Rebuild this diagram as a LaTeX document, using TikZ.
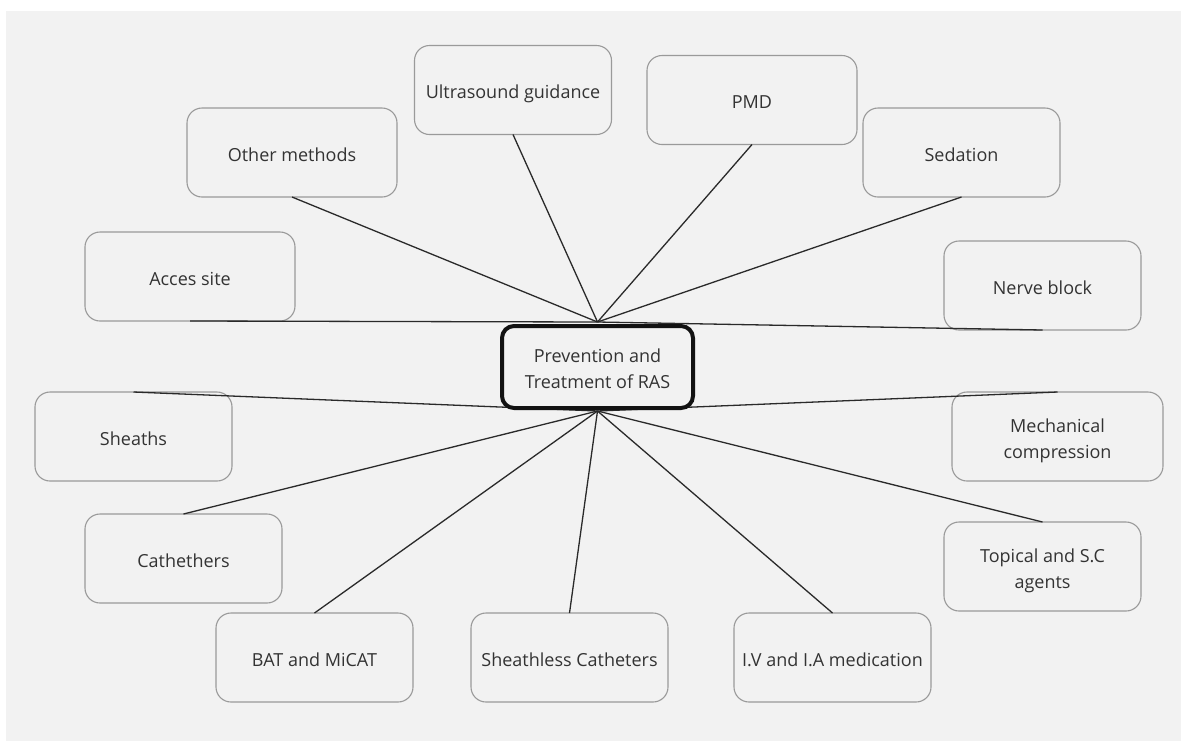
\documentclass[tikz,border=0pt]{standalone}
\usepackage{fontspec}
\setmainfont{Open Sans}
\definecolor{bgc}{HTML}{F2F2F2}
\definecolor{txt}{HTML}{333333}
\definecolor{boxc}{HTML}{9A9A9A}
\definecolor{linec}{HTML}{2A2A2A}
\pgfdeclarelayer{bg}
\pgfdeclarelayer{lines}
\pgfdeclarelayer{top}
\pgfsetlayers{bg,main,lines,top}
\tikzset{
  leaf/.style={draw=boxc, line width=1.1pt, rounded corners=15pt, fill=bgc,
    minimum width=197pt, minimum height=89pt, inner sep=0pt, outer sep=0pt,
    text=txt, align=center, font=\fontsize{18}{26}\selectfont,
    text height=22pt, text depth=5pt},
  two/.style={text height=48pt, text depth=5pt},
  hubbox/.style={draw=black!93, line width=4pt, rounded corners=12pt, fill=bgc,
    minimum width=191pt, minimum height=82pt, inner sep=0pt, outer sep=0pt,
    text=txt, align=center, font=\fontsize{18}{26}\selectfont,
    text height=48pt, text depth=5pt},
  conn/.style={draw=linec, line width=1.3pt}
}
\begin{document}
\begin{tikzpicture}[x=1pt,y=-1pt]
\useasboundingbox (0,0) rectangle (1181,740);
\begin{pgfonlayer}{bg}
  \fill[white] (0,0) rectangle (1181,740);
  \fill[bgc] (6,11) rectangle (1195,755);
\end{pgfonlayer}
\begin{pgfonlayer}{top}
\node[hubbox] (c) at (597.5,367) {Prevention and\\Treatment of RAS};
\end{pgfonlayer}
\coordinate (ht) at (597.5,322);
\coordinate (hb) at (597.5,411);
\node[leaf] (us) at (513,90) {Ultrasound guidance};
\node[leaf, minimum width=210pt] (pmd) at (752,100) {PMD};
\node[leaf, minimum width=210pt] (om) at (292,152.5) {Other methods};
\node[leaf] (sed) at (961.5,152.5) {Sedation};
\node[leaf, minimum width=210pt] (acc) at (190,276.5) {Acces site};
\node[leaf] (nb) at (1042.5,285.5) {Nerve block};
\node[leaf] (sh) at (133.5,436.5) {Sheaths};
\node[leaf, two, minimum width=211pt] (mc) at (1057.5,436.5) {Mechanical\\compression};
\node[leaf, two] (ts) at (1042.5,566.5) {Topical and S.C\\agents};
\node[leaf] (ca) at (183.5,558.5) {Cathethers};
\node[leaf] (bat) at (314.5,657.5) {BAT and MiCAT};
\node[leaf] (sl) at (569.5,657.5) {Sheathless Catheters};
\node[leaf] (iv) at (832.5,657.5) {I.V and I.A medication};
\begin{pgfonlayer}{lines}
  \foreach \n in {acc,om,us,pmd,sed,nb} \draw[conn] (ht) -- (\n.south);
  \foreach \n in {sh,ca,bat,sl,iv,ts,mc} \draw[conn] (hb) -- (\n.north);
\end{pgfonlayer}
\end{tikzpicture}
\end{document}
